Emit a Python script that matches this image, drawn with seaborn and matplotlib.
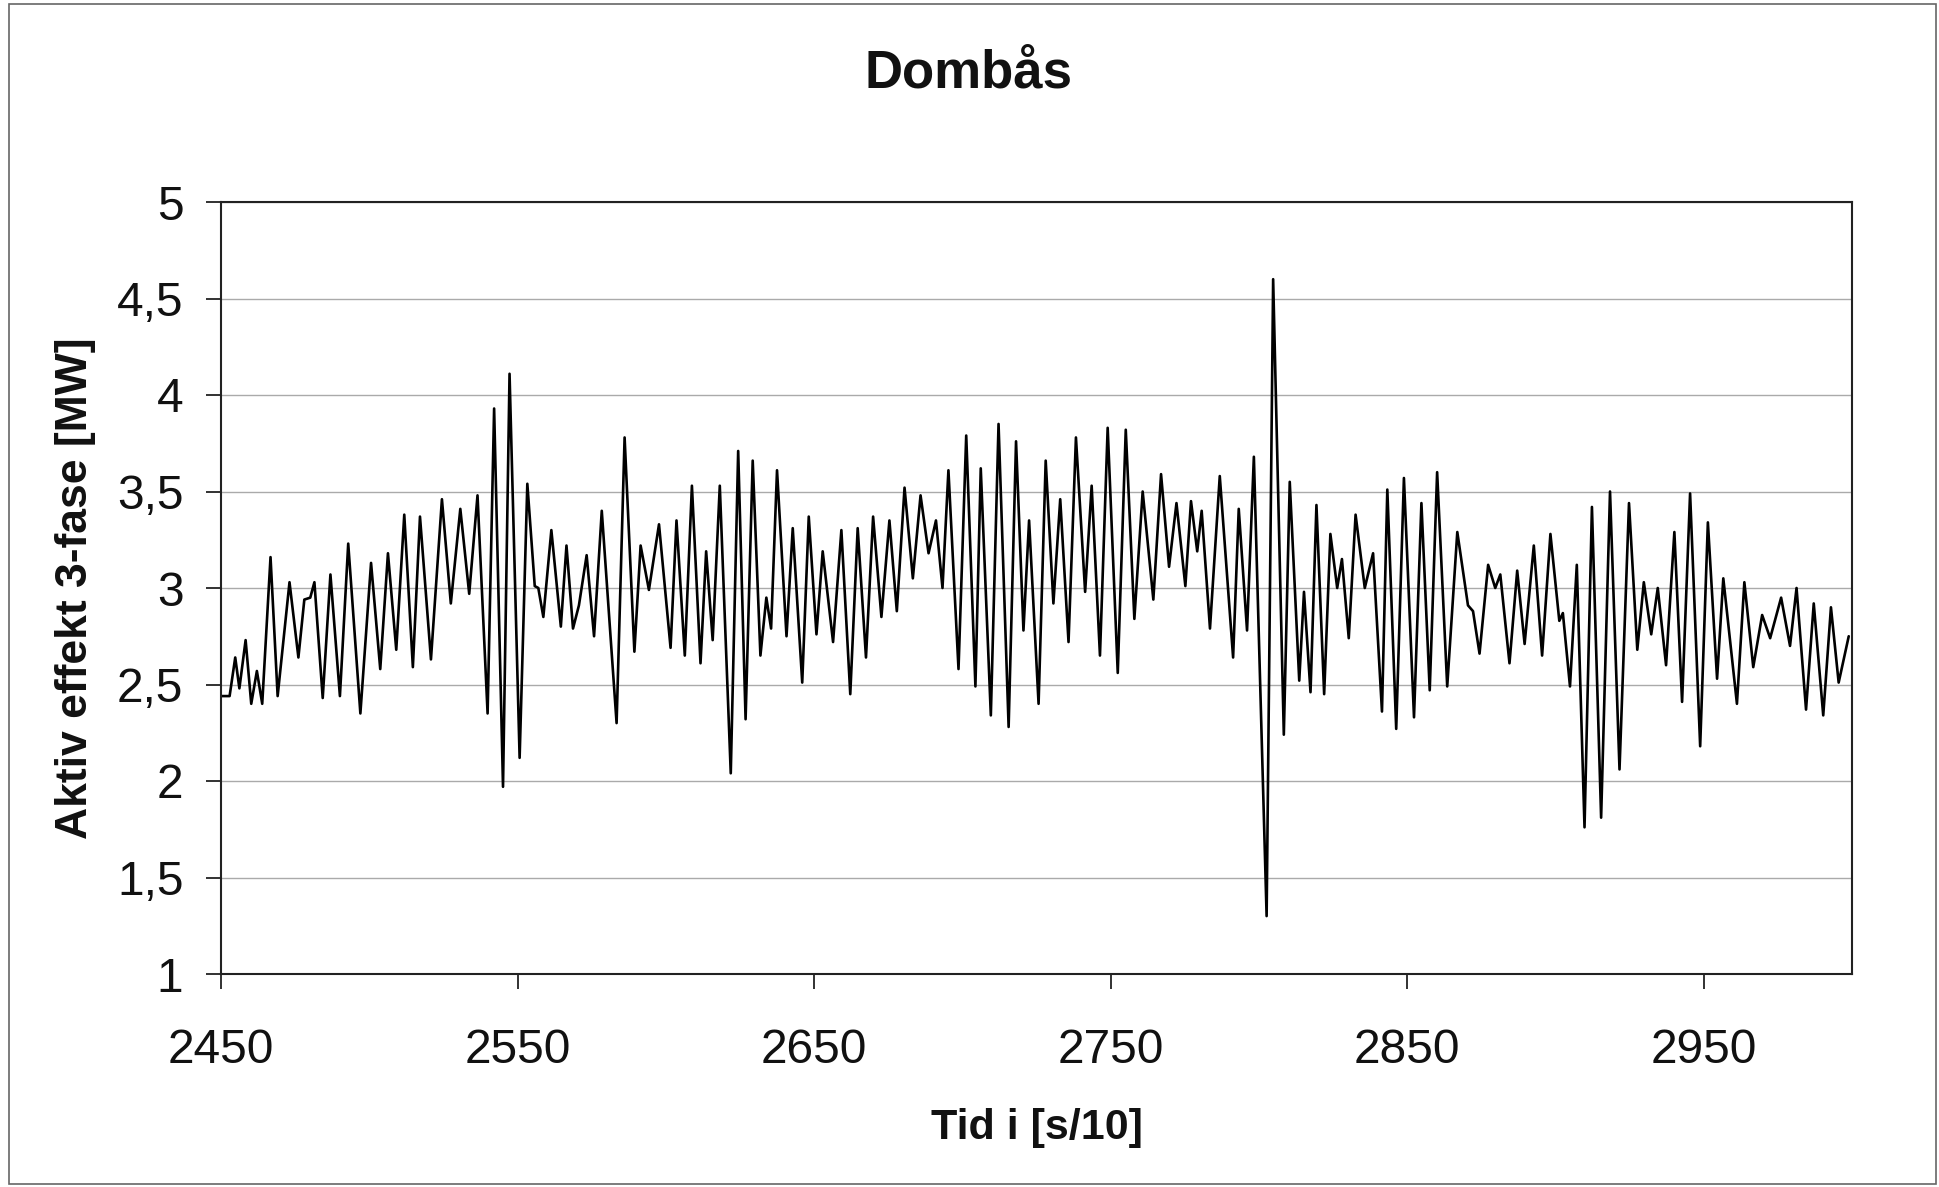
import seaborn as sns
import matplotlib.pyplot as plt
from matplotlib.patches import Rectangle

# peaks and troughs, time in s/10, power in MW
tid = [
    2450.1, 2452.9, 2454.8, 2456.2, 2458.3, 2460.2, 2462.1, 2463.9, 2466.7, 2469.1,
    2473.1, 2476.1, 2478.1, 2480.1, 2481.5, 2484.3, 2486.9, 2490.1, 2492.9, 2497.0,
    2500.6, 2503.7, 2506.3, 2509.1, 2511.8, 2514.7, 2517.1, 2520.8, 2524.5, 2527.5,
    2530.7, 2533.7, 2536.5, 2539.9, 2542.1, 2545.1, 2547.3, 2550.7, 2553.3, 2555.8,
    2557.0, 2558.7, 2561.4, 2564.6, 2566.5, 2568.7, 2570.7, 2573.3, 2575.8, 2578.4,
    2583.4, 2586.1, 2589.4, 2591.5, 2594.3, 2597.7, 2601.6, 2603.6, 2606.4, 2608.8,
    2611.7, 2613.6, 2615.8, 2618.2, 2621.9, 2624.4, 2626.9, 2629.3, 2631.9, 2633.9,
    2635.5, 2637.5, 2640.7, 2642.8, 2646.0, 2648.2, 2650.8, 2652.9, 2656.4, 2659.2,
    2662.2, 2664.7, 2667.5, 2669.9, 2672.7, 2675.4, 2677.9, 2680.5, 2683.3, 2685.9,
    2688.6, 2691.1, 2693.3, 2695.3, 2698.7, 2701.3, 2704.4, 2706.2, 2709.6, 2712.2,
    2715.6, 2718.1, 2720.6, 2722.5, 2725.7, 2728.1, 2730.7, 2733.0, 2735.8, 2738.3,
    2741.4, 2743.6, 2746.4, 2749.0, 2752.4, 2755.1, 2758.0, 2760.8, 2764.4, 2767.0,
    2769.7, 2772.2, 2775.2, 2777.1, 2779.2, 2780.7, 2783.5, 2786.8, 2791.3, 2793.2,
    2796.0, 2798.3, 2802.6, 2804.8, 2808.4, 2810.4, 2813.6, 2815.2, 2817.4, 2819.4,
    2822.0, 2824.1, 2826.4, 2828.0, 2830.3, 2832.6, 2835.7, 2838.5, 2841.5, 2843.3,
    2846.3, 2848.9, 2852.3, 2854.8, 2857.6, 2860.1, 2863.5, 2866.9, 2870.5, 2872.2,
    2874.4, 2877.3, 2879.7, 2881.4, 2884.5, 2887.1, 2889.6, 2892.7, 2895.5, 2898.3,
    2901.3, 2902.5, 2904.9, 2907.2, 2909.8, 2912.3, 2915.4, 2918.4, 2921.6, 2924.8,
    2927.6, 2929.8, 2932.3, 2934.5, 2937.3, 2940.1, 2942.7, 2945.4, 2948.8, 2951.4,
    2954.5, 2956.6, 2961.2, 2963.7, 2966.7, 2969.7, 2972.4, 2976.1, 2979.1, 2981.3,
    2984.5, 2987.1, 2990.3, 2992.9, 2995.5, 2998.9,
]
effekt = [
    2.44, 2.44, 2.64, 2.48, 2.73, 2.40, 2.57, 2.40, 3.16, 2.44,
    3.03, 2.64, 2.94, 2.95, 3.03, 2.43, 3.07, 2.44, 3.23, 2.35,
    3.13, 2.58, 3.18, 2.68, 3.38, 2.59, 3.37, 2.63, 3.46, 2.92,
    3.41, 2.97, 3.48, 2.35, 3.93, 1.97, 4.11, 2.12, 3.54, 3.01,
    3.00, 2.85, 3.30, 2.80, 3.22, 2.79, 2.91, 3.17, 2.75, 3.40,
    2.30, 3.78, 2.67, 3.22, 2.99, 3.33, 2.69, 3.35, 2.65, 3.53,
    2.61, 3.19, 2.73, 3.53, 2.04, 3.71, 2.32, 3.66, 2.65, 2.95,
    2.79, 3.61, 2.75, 3.31, 2.51, 3.37, 2.76, 3.19, 2.72, 3.30,
    2.45, 3.31, 2.64, 3.37, 2.85, 3.35, 2.88, 3.52, 3.05, 3.48,
    3.18, 3.35, 3.00, 3.61, 2.58, 3.79, 2.49, 3.62, 2.34, 3.85,
    2.28, 3.76, 2.78, 3.35, 2.40, 3.66, 2.92, 3.46, 2.72, 3.78,
    2.98, 3.53, 2.65, 3.83, 2.56, 3.82, 2.84, 3.50, 2.94, 3.59,
    3.11, 3.44, 3.01, 3.45, 3.19, 3.40, 2.79, 3.58, 2.64, 3.41,
    2.78, 3.68, 1.30, 4.60, 2.24, 3.55, 2.52, 2.98, 2.46, 3.43,
    2.45, 3.28, 3.00, 3.15, 2.74, 3.38, 3.00, 3.18, 2.36, 3.51,
    2.27, 3.57, 2.33, 3.44, 2.47, 3.60, 2.49, 3.29, 2.91, 2.88,
    2.66, 3.12, 3.00, 3.07, 2.61, 3.09, 2.71, 3.22, 2.65, 3.28,
    2.83, 2.87, 2.49, 3.12, 1.76, 3.42, 1.81, 3.50, 2.06, 3.44,
    2.68, 3.03, 2.76, 3.00, 2.60, 3.29, 2.41, 3.49, 2.18, 3.34,
    2.53, 3.05, 2.40, 3.03, 2.59, 2.86, 2.74, 2.95, 2.70, 3.00,
    2.37, 2.92, 2.34, 2.90, 2.51, 2.75,
]

x_ticks = [2450, 2550, 2650, 2750, 2850, 2950]
y_ticks = [1, 1.5, 2, 2.5, 3, 3.5, 4, 4.5, 5]
y_tick_labels = ['1', '1,5', '2', '2,5', '3', '3,5', '4', '4,5', '5']

sns.set_style('white')
plt.rcParams['font.family'] = ['Liberation Sans', 'DejaVu Sans']

fig = plt.figure(figsize=(19.4, 11.87), dpi=100)
ax = fig.add_axes([221 / 1940, 1 - 974 / 1187, 1631 / 1940, 772 / 1187])

sns.lineplot(x=tid, y=effekt, ax=ax, color='black', linewidth=1.9, estimator=None)
for ln in ax.get_lines():
    ln.set_solid_joinstyle('round')

ax.set_xlim(2450, 3000)
ax.set_ylim(1, 5)
ax.set_xticks(x_ticks)
ax.set_yticks(y_ticks)
ax.set_yticklabels(y_tick_labels)
ax.grid(axis='y', color='#aaaaaa', linewidth=1.0)
ax.set_axisbelow(True)

for s in ax.spines.values():
    s.set_color('#222222')
    s.set_linewidth(1.5)

ax.tick_params(axis='both', direction='out', length=11, width=1.3, color='#222222',
               labelsize=34.5, labelcolor='#111111')
ax.tick_params(axis='x', pad=28, bottom=True)
ax.tick_params(axis='y', pad=16, left=True)

ax.set_xlabel('Tid i [s/10]', fontsize=31, fontweight='bold', color='#111111')
ax.set_ylabel('Aktiv effekt 3-fase [MW]', fontsize=32, fontweight='bold', color='#111111')
ax.xaxis.set_label_coords(0.5, (974 - 1128) / 772)
ax.xaxis.label.set_va('center')
ax.yaxis.set_label_coords((76 - 221) / 1631, 0.5)
ax.yaxis.label.set_va('center')

fig.text(969 / 1940, 1 - 74 / 1187, 'Dombås', ha='center', va='center',
         fontsize=38, fontweight='bold', color='#111111')

# thin frame round the whole chart
fig.patches.append(Rectangle((9 / 1940, 3 / 1187), 1927 / 1940, 1180 / 1187,
                             transform=fig.transFigure, fill=False,
                             edgecolor='#666666', linewidth=1.2))

fig.savefig('out.png', dpi=100)
